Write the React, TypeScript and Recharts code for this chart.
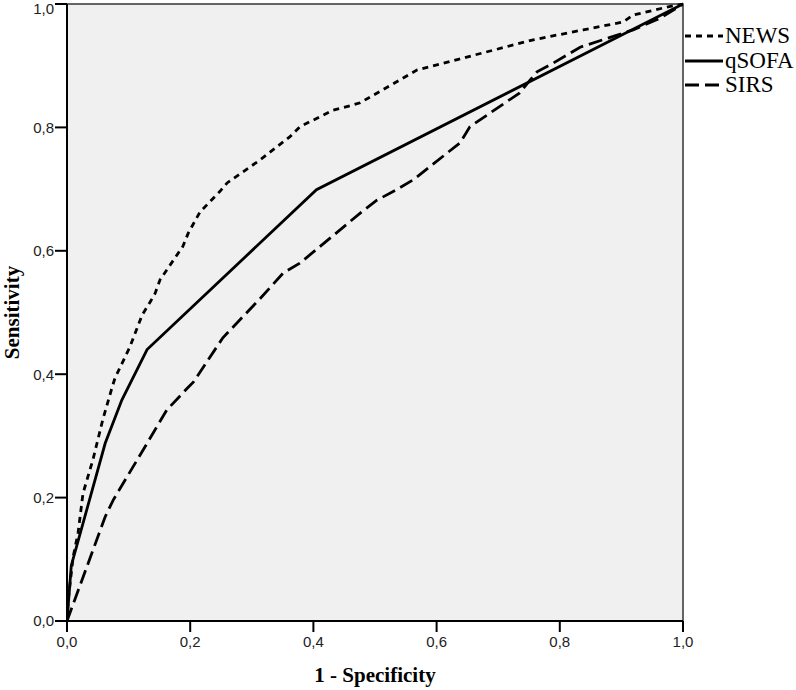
import { LineChart, Line, XAxis, YAxis, ReferenceArea } from "recharts";

// ROC curves, x = 1 - specificity, y = sensitivity
const newsFpr = [0, 0.002, 0.01, 0.018, 0.026, 0.042, 0.058, 0.073, 0.078, 0.102, 0.122, 0.135, 0.143, 0.151, 0.188, 0.197, 0.216, 0.248, 0.26, 0.313, 0.362, 0.378, 0.432, 0.459, 0.476, 0.568, 0.649, 0.757, 0.838, 0.903, 0.919, 0.974, 1];
const newsTpr = [0, 0.034, 0.104, 0.143, 0.207, 0.261, 0.326, 0.378, 0.394, 0.444, 0.496, 0.517, 0.531, 0.553, 0.607, 0.629, 0.663, 0.696, 0.71, 0.747, 0.785, 0.801, 0.828, 0.835, 0.84, 0.893, 0.914, 0.942, 0.958, 0.971, 0.982, 0.995, 1];

const qsofaFpr = [0, 0.007, 0.062, 0.089, 0.13, 0.405, 1];
const qsofaTpr = [0, 0.09, 0.288, 0.358, 0.44, 0.699, 1];

const sirsFpr = [0, 0.062, 0.075, 0.13, 0.162, 0.196, 0.205, 0.253, 0.313, 0.351, 0.378, 0.476, 0.503, 0.535, 0.562, 0.638, 0.654, 0.735, 0.752, 0.763, 0.789, 0.833, 0.919, 0.963, 1];
const sirsTpr = [0, 0.169, 0.196, 0.288, 0.342, 0.378, 0.387, 0.459, 0.522, 0.564, 0.58, 0.661, 0.682, 0.699, 0.715, 0.775, 0.801, 0.856, 0.877, 0.89, 0.904, 0.93, 0.958, 0.977, 1];

const ticks = [0, 0.2, 0.4, 0.6, 0.8, 1];

const toPoints = (xs: number[], ys: number[]) => xs.map((x, i) => ({ x, y: ys[i] }));

const series = [
  { name: "NEWS", data: toPoints(newsFpr, newsTpr), dash: "6 5" },
  { name: "qSOFA", data: toPoints(qsofaFpr, qsofaTpr), dash: undefined },
  { name: "SIRS", data: toPoints(sirsFpr, sirsTpr), dash: "14 6" },
];

const fmt = (v: number) => v.toFixed(1).replace(".", ",");
const tickStyle = { fontFamily: "'Liberation Sans', Arial, sans-serif", fontSize: 15, fill: "#222" };
const labelStyle = { fontFamily: "'Liberation Serif', 'Times New Roman', serif", fontSize: 21, fontWeight: 700, fill: "#000" };

export default function App() {
  return (
    <div style={{ position: "relative", width: 796, height: 690, background: "#fff" }}>
      <style>{`body{margin:0}`}</style>
      <LineChart width={796} height={690} margin={{ top: 4, right: 113, left: 0, bottom: 0 }}>
        <XAxis
          type="number"
          dataKey="x"
          domain={[0, 1]}
          ticks={ticks}
          tickFormatter={fmt}
          tick={tickStyle}
          tickSize={11}
          tickMargin={4}
          height={69}
          axisLine={{ stroke: "#000", strokeWidth: 2 }}
          tickLine={{ stroke: "#000", strokeWidth: 2 }}
          allowDataOverflow
          label={{ value: "1 - Specificity", position: "insideBottom", offset: 8, style: labelStyle }}
        />
        <YAxis
          type="number"
          dataKey="y"
          domain={[0, 1]}
          ticks={ticks}
          tickFormatter={fmt}
          tick={tickStyle}
          tickSize={12}
          tickMargin={1}
          width={67}
          axisLine={{ stroke: "#000", strokeWidth: 2 }}
          tickLine={{ stroke: "#000", strokeWidth: 2 }}
          label={{ value: "Sensitivity", angle: -90, position: "insideLeft", offset: 12, style: { ...labelStyle, textAnchor: "middle" } }}
        />
        <ReferenceArea x1={0} x2={1} y1={0} y2={1} fill="#f0f0f0" fillOpacity={1} stroke="#333" strokeWidth={1.5} />
        {series.map((s) => (
          <Line
            key={s.name}
            data={s.data}
            dataKey="y"
            type="linear"
            stroke="#000"
            strokeWidth={2.8}
            strokeDasharray={s.dash}
            dot={false}
            activeDot={false}
            isAnimationActive={false}
          />
        ))}
      </LineChart>
      <div style={{ position: "absolute", left: 685, top: 24, fontFamily: "'Liberation Serif', 'Times New Roman', serif", fontSize: 23, color: "#000" }}>
        {series.map((s) => (
          <div key={s.name} style={{ display: "flex", alignItems: "center", height: 24.5, whiteSpace: "nowrap" }}>
            <svg width={40} height={6} style={{ flex: "none" }}>
              <line x1={0} y1={3} x2={38} y2={3} stroke="#000" strokeWidth={2.8} strokeDasharray={s.dash} />
            </svg>
            <span style={{ lineHeight: "24.5px" }}>{s.name}</span>
          </div>
        ))}
      </div>
    </div>
  );
}
